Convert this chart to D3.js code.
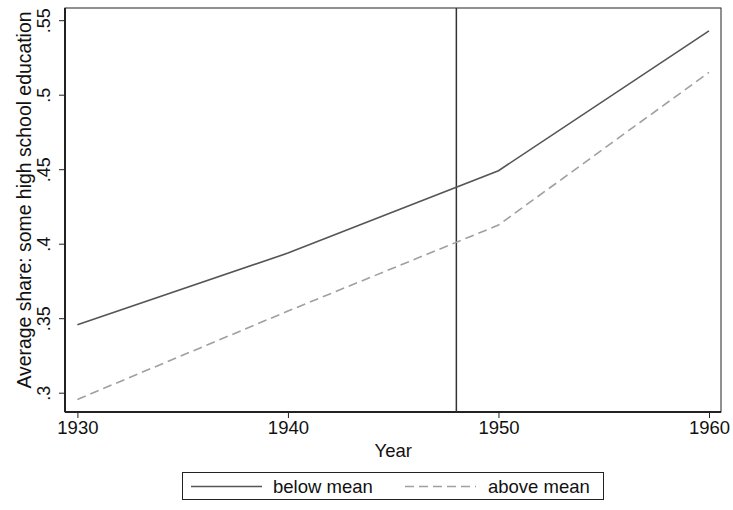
<!DOCTYPE html>
<html>
<head>
<meta charset="utf-8">
<script src="https://cdn.jsdelivr.net/npm/d3@7"></script>
<style>
  body { margin: 0; background: #fff; }
  svg text { font-family: "Liberation Sans", Arial, Helvetica, sans-serif; fill: #111; }
</style>
</head>
<body>
<svg id="chart" width="733" height="510"></svg>
<script>
// decades on the x axis
var years = [1930, 1940, 1950, 1960];
// average share with some high school education
var belowMean = [0.3456, 0.3937, 0.4490, 0.5428];
var aboveMean = [0.2955, 0.3548, 0.4125, 0.5150];
var cutoffYear = 1948;

var xTicks = [1930, 1940, 1950, 1960];
var yTicks = [0.3, 0.35, 0.4, 0.45, 0.5, 0.55];
var yTickLabels = ['.3', '.35', '.4', '.45', '.5', '.55'];

var svg = d3.select('#chart');

var plotLeft = 65, plotRight = 721, plotTop = 8, plotBottom = 412;

var x = d3.scaleLinear().domain([1930, 1960]).range([77.4, 709]);
var y = d3.scaleLinear().domain([0.3, 0.55]).range([392.7, 20.2]);

// plot region outline
svg.append('rect')
    .attr('x', plotLeft).attr('y', plotTop)
    .attr('width', plotRight - plotLeft).attr('height', plotBottom - plotTop)
    .style('fill', 'none').style('stroke', '#222').style('stroke-width', 1);

// x axis
var xAxis = svg.append('g')
    .attr('transform', 'translate(0,' + plotBottom + ')')
    .call(d3.axisBottom(x).tickValues(xTicks).tickFormat(d3.format('d')).tickSizeOuter(0).tickSize(6).tickPadding(3));
xAxis.select('.domain').attr('d', 'M' + plotLeft + ',0H' + plotRight).style('stroke', '#222').style('stroke-width', 2);
xAxis.selectAll('.tick line').style('stroke', '#222');
xAxis.selectAll('.tick text').style('font-size', '18.5px').attr('fill', '#111');

// y axis
var yAxis = svg.append('g')
    .attr('transform', 'translate(' + plotLeft + ',0)')
    .call(d3.axisLeft(y).tickValues(yTicks).tickFormat(function(d, i) { return yTickLabels[i]; }).tickSizeOuter(0).tickSize(6));
yAxis.select('.domain').attr('d', 'M0,' + plotTop + 'V' + plotBottom).style('stroke', '#222').style('stroke-width', 2);
yAxis.selectAll('.tick line').style('stroke', '#222');
yAxis.selectAll('.tick text')
    .attr('x', null).attr('dy', null)
    .attr('transform', 'translate(-15,0) rotate(-90)')
    .attr('text-anchor', 'middle')
    .style('font-size', '18px').attr('fill', '#111');

// vertical reference line
svg.append('line')
    .attr('x1', x(cutoffYear)).attr('x2', x(cutoffYear))
    .attr('y1', plotTop).attr('y2', plotBottom)
    .style('stroke', '#333').style('stroke-width', 1.5);

var line = d3.line()
    .x(function(d, i) { return x(years[i]); })
    .y(function(d) { return y(d); });

svg.append('path').datum(belowMean)
    .attr('d', line)
    .style('fill', 'none').style('stroke', '#555').style('stroke-width', 1.6);

svg.append('path').datum(aboveMean)
    .attr('d', line)
    .style('fill', 'none').style('stroke', '#a0a0a0').style('stroke-width', 1.6)
    .style('stroke-dasharray', '9,5');

// axis titles
svg.append('text')
    .attr('x', x(1945)).attr('y', 457)
    .attr('text-anchor', 'middle')
    .style('font-size', '18.5px')
    .text('Year');

svg.append('text')
    .attr('transform', 'translate(31,200) rotate(-90)')
    .attr('text-anchor', 'middle')
    .style('font-size', '19.4px')
    .text('Average share: some high school education');

// legend
var legend = svg.append('g');
legend.append('rect')
    .attr('x', 182.5).attr('y', 472.5).attr('width', 421).attr('height', 27)
    .style('fill', '#fff').style('stroke', '#222').style('stroke-width', 1);
legend.append('line')
    .attr('x1', 191).attr('x2', 262).attr('y1', 486.5).attr('y2', 486.5)
    .style('stroke', '#555').style('stroke-width', 1.6);
legend.append('text')
    .attr('x', 273).attr('y', 492.5)
    .style('font-size', '18.5px')
    .text('below mean');
legend.append('line')
    .attr('x1', 405).attr('x2', 476).attr('y1', 486.5).attr('y2', 486.5)
    .style('stroke', '#a0a0a0').style('stroke-width', 1.6)
    .style('stroke-dasharray', '9,5');
legend.append('text')
    .attr('x', 488).attr('y', 492.5)
    .style('font-size', '18.5px')
    .text('above mean');
</script>
</body>
</html>
